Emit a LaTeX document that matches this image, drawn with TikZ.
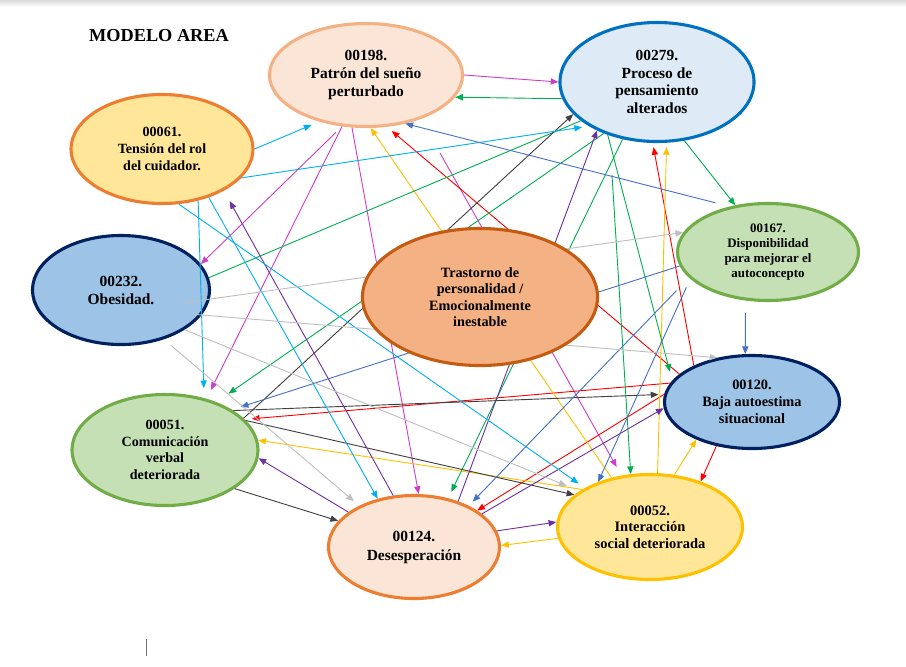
\documentclass[tikz,border=0pt]{standalone}
\usepackage{fontspec}
\setmainfont{Liberation Serif}
\usetikzlibrary{shapes.geometric,arrows.meta}
\definecolor{durazno}{HTML}{FBE5D6}
\definecolor{naranjaclaro}{HTML}{F4B183}
\definecolor{celeste}{HTML}{DEEBF7}
\definecolor{azulborde}{HTML}{0070C0}
\definecolor{amarillo}{HTML}{FFE699}
\definecolor{naranja}{HTML}{ED7D31}
\definecolor{azulcel}{HTML}{9DC3E6}
\definecolor{marino}{HTML}{002060}
\definecolor{cafe}{HTML}{C55A11}
\definecolor{verdeclaro}{HTML}{C5E0B4}
\definecolor{verdeborde}{HTML}{70AD47}
\definecolor{oro}{HTML}{FFC000}
\definecolor{rosa}{RGB}{208,62,200}
\definecolor{verde}{HTML}{00B050}
\definecolor{oscuro}{HTML}{404040}
\definecolor{morado}{HTML}{7030A0}
\definecolor{cian}{HTML}{00B0F0}
\definecolor{azulf}{HTML}{4472C4}
\definecolor{gris}{HTML}{BFBFBF}
\begin{document}
\begin{tikzpicture}[x=0.025cm,y=-0.025cm,>={Triangle[length=5.5pt,width=4.4pt]},
        dx/.style={ellipse,line width=2.2pt,inner sep=0pt,align=center,font=\bfseries\fontsize{11}{12.8}\selectfont},
        flecha/.style={->,line width=0.65pt}]
        \useasboundingbox (0,0) rectangle (906,666);
        \shade[top color=black!14,bottom color=white] (0,0) rectangle (906,7);
        \node[font=\bfseries\fontsize{13}{15}\selectfont] (titulo) at (159,36) {MODELO AREA};
        \node[dx,draw=naranjaclaro,fill=durazno,minimum width=4.825cm,minimum height=2.575cm] (sueno) at (366,75) {00198.\\Patrón del sueño\\perturbado};
        \node[dx,draw=azulborde,fill=celeste,minimum width=4.85cm,minimum height=2.975cm,font=\bfseries\fontsize{11}{12.5}\selectfont] (pensamiento) at (657,82) {00279.\\ Proceso de\\pensamiento\\alterados};
        \node[dx,draw=naranja,fill=amarillo,minimum width=4.55cm,minimum height=2.725cm,font=\bfseries\fontsize{10}{11.8}\selectfont] (rol) at (162,149) {00061.\\Tensión del rol\\del cuidador.};
        \node[dx,draw=marino,fill=azulcel,minimum width=4.425cm,minimum height=2.725cm] (obesidad) at (121,290) {00232.\\Obesidad.};
        \node[dx,draw=verdeborde,fill=verdeclaro,minimum width=4.525cm,minimum height=2.425cm,font=\bfseries\fontsize{9.2}{10.6}\selectfont] (autoconcepto) at (768,252) {00167.\\Disponibilidad\\para mejorar el\\autoconcepto};
        \node[dx,draw=marino,fill=azulcel,minimum width=4.375cm,minimum height=2.325cm,font=\bfseries\fontsize{10.2}{12}\selectfont] (autoestima) at (752,402) {00120.\\Baja autoestima\\situacional};
        \node[dx,draw=verdeborde,fill=verdeclaro,minimum width=4.65cm,minimum height=2.775cm,font=\bfseries\fontsize{10}{11.7}\selectfont] (comunicacion) at (165,450) {00051.\\Comunicación\\verbal\\deteriorada};
        \node[dx,draw=naranja,fill=durazno,minimum width=4.275cm,minimum height=2.575cm,font=\bfseries\fontsize{11}{13.5}\selectfont] (desesperacion) at (414,547) {00124.\\Desesperación};
        \node[dx,draw=oro,fill=amarillo,minimum width=4.625cm,minimum height=2.625cm,font=\bfseries\fontsize{10.3}{11.8}\selectfont] (interaccion) at (650,527) {00052.\\Interacción\\social deteriorada};
        \coordinate (s1) at (440,153);
        \coordinate (s2) at (612,175);
        \coordinate (s3) at (182,303);
        \coordinate (s4) at (190,314);
        \draw[flecha,rosa] (sueno.0) -- (pensamiento.180);
        \draw[flecha,rosa,shorten <=6pt] (sueno.-115) -- (obesidad.18);
        \draw[flecha,rosa,shorten >=7pt] (sueno.-115) -- (comunicacion.51);
        \draw[flecha,rosa] (sueno.-105) -- (desesperacion.85);
        \draw[flecha,rosa,shorten >=7pt] (s1) -- (interaccion.119);
        \draw[flecha,red,shorten >=4.5pt] (autoestima.159) -- (sueno.-68);
        \draw[flecha,red,shorten >=3pt] (autoestima.148) -- (pensamiento.-94);
        \draw[flecha,red,shorten >=5pt] (autoestima.167) -- (comunicacion.21);
        \draw[flecha,red] (autoestima.175) -- (desesperacion.30);
        \draw[flecha,red] (autoestima.-129) -- (interaccion.42);
        \draw[flecha,oro] (interaccion.128) -- (sueno.-85);
        \draw[flecha,oro,shorten >=3pt] (interaccion.82) -- (pensamiento.-81);
        \draw[flecha,oro] (interaccion.65) -- (autoestima.-146);
        \draw[flecha,oro] (interaccion.-173) -- (desesperacion.1);
        \draw[flecha,oro] (interaccion.151) -- (comunicacion.6);
        \draw[flecha,verde] (pensamiento.-170) -- (sueno.-14);
        \draw[flecha,verde] (pensamiento.-65) -- (autoconcepto.125);
        \draw[line width=0.65pt,verde] (pensamiento.-153) -- (obesidad.8);
        \draw[flecha,verde,shorten >=10.5pt] (pensamiento.-136) -- (comunicacion.43);
        \draw[flecha,verde,shorten >=5pt] (pensamiento.-121) -- (desesperacion.55);
        \draw[flecha,verde,shorten >=6.5pt] (pensamiento.-133) -- (autoestima.165);
        \draw[flecha,verde] (s2) -- (interaccion.110);
        \draw[flecha,oscuro] (comunicacion.22) -- (pensamiento.-159);
        \draw[flecha,oscuro,shorten >=4pt] (comunicacion.30) -- (autoestima.175);
        \draw[flecha,oscuro] (comunicacion.20) -- (interaccion.157);
        \draw[flecha,oscuro] (comunicacion.-29) -- (desesperacion.161);
        \draw[flecha,morado,shorten >=8.5pt] (desesperacion.112) -- (rol.-34);
        \draw[flecha,morado] (desesperacion.46) -- (pensamiento.-141);
        \draw[flecha,morado] (desesperacion.26) -- (autoestima.-176);
        \draw[flecha,morado] (desesperacion.11) -- (interaccion.177);
        \draw[flecha,morado] (desesperacion.152) -- (comunicacion.-5);
        \draw[flecha,cian,shorten >=6pt] (rol.0) -- (sueno.-135);
        \draw[flecha,cian,shorten >=5pt] (rol.-20) -- (pensamiento.-147);
        \draw[flecha,cian,shorten >=7pt] (rol.-55) -- (comunicacion.53);
        \draw[flecha,cian] (rol.-46) -- (desesperacion.127);
        \draw[flecha,cian,shorten >=5.5pt] (rol.-73) -- (interaccion.149);
        \draw[flecha,azulf,shorten <=10.6pt] (autoconcepto.130) -- (sueno.-51);
        \draw[flecha,azulf,shorten <=9pt] (autoconcepto.-115) -- (autoestima.98);
        \draw[flecha,azulf,shorten >=6.5pt] (autoconcepto.-171) -- (comunicacion.31);
        \draw[flecha,azulf,shorten <=12.8pt,shorten >=4pt] (autoconcepto.-162) -- (desesperacion.37);
        \draw[flecha,azulf,shorten <=6.7pt] (autoconcepto.-161) -- (interaccion.139);
        \draw[flecha,gris] (s3) -- (autoconcepto.167);
        \draw[flecha,gris] (s4) -- (autoestima.128);
        \draw[flecha,gris,shorten >=10pt] (obesidad.-32) -- (interaccion.153);
        \draw[flecha,gris,shorten <=7pt,shorten >=5pt] (obesidad.-49) -- (desesperacion.143);
        \node[dx,draw=cafe,fill=naranjaclaro,minimum width=5.875cm,minimum height=3.425cm,font=\bfseries\fontsize{10.1}{11.7}\selectfont] (trastorno) at (480,297) {Trastorno de\\personalidad /\\Emocionalmente\\inestable};
        \draw[black!55,line width=0.6pt] (146,639) -- (146,656);
\end{tikzpicture}
\end{document}
